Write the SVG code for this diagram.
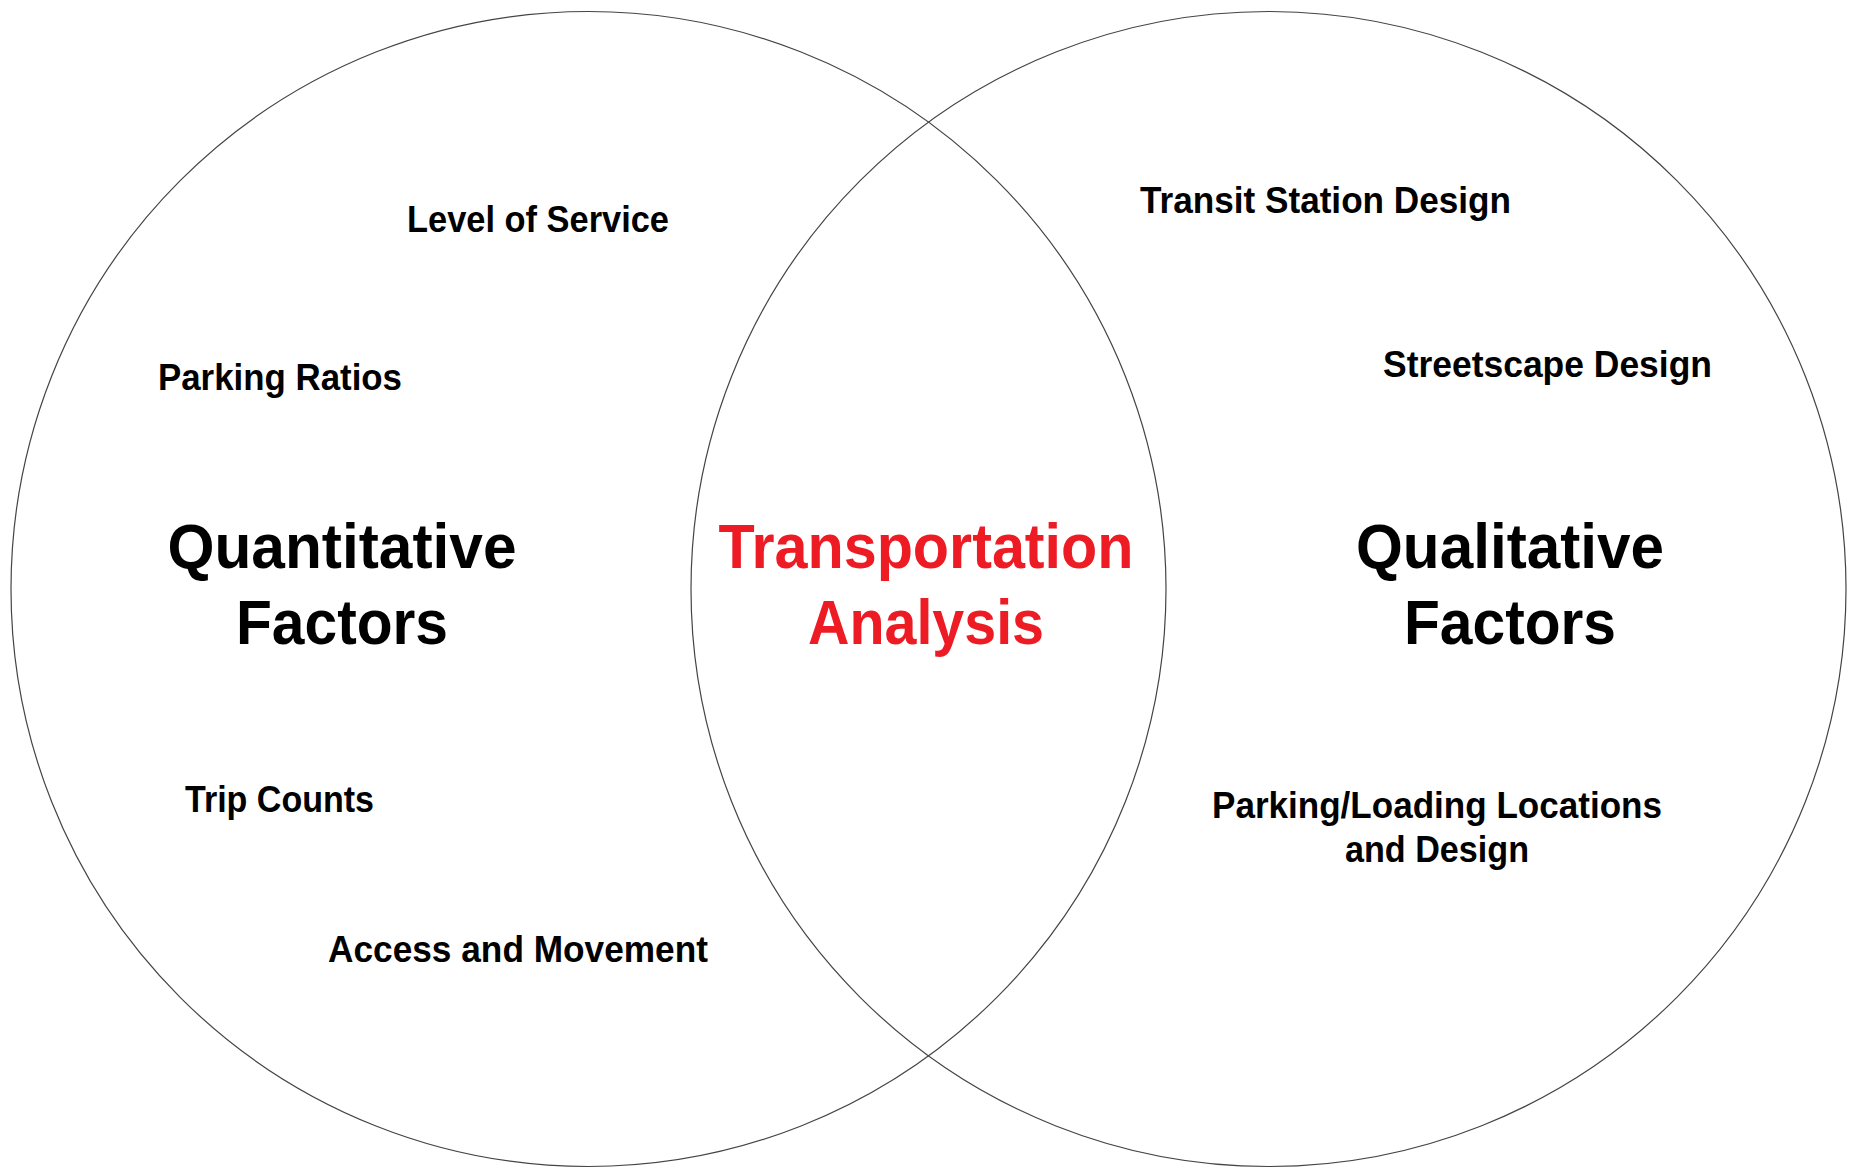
<svg xmlns="http://www.w3.org/2000/svg" width="1849" height="1168" viewBox="0 0 1849 1168">
<style>
.c{fill:none;stroke:#444;stroke-width:1.2}
.s{font-family:"Liberation Sans",Arial,sans-serif;font-weight:bold;font-size:36px;fill:#000;text-anchor:middle}
.b{font-family:"Liberation Sans",Arial,sans-serif;font-weight:bold;font-size:63px;fill:#000;text-anchor:middle}
.r{fill:#ED1C24}
</style>
<rect width="1849" height="1168" fill="#fff"/>
<g id="left-circle">
<circle class="c" cx="588.5" cy="589" r="577.5"/>
<text class="b" x="342" y="568" textLength="349" lengthAdjust="spacingAndGlyphs">Quantitative</text>
<text class="b" x="342" y="644" textLength="212" lengthAdjust="spacingAndGlyphs">Factors</text>
</g>
<g id="right-circle">
<circle class="c" cx="1268.5" cy="589" r="577.5"/>
<text class="b" x="1510" y="568" textLength="308" lengthAdjust="spacingAndGlyphs">Qualitative</text>
<text class="b" x="1510" y="644" textLength="212" lengthAdjust="spacingAndGlyphs">Factors</text>
</g>
<g id="center">
<text class="b r" x="926" y="568" textLength="415" lengthAdjust="spacingAndGlyphs">Transportation</text>
<text class="b r" x="926" y="644" textLength="236" lengthAdjust="spacingAndGlyphs">Analysis</text>
</g>
<g id="level-of-service"><text class="s" x="538" y="232" textLength="262" lengthAdjust="spacingAndGlyphs">Level of Service</text></g>
<g id="parking-ratios"><text class="s" x="280" y="390" textLength="244" lengthAdjust="spacingAndGlyphs">Parking Ratios</text></g>
<g id="trip-counts"><text class="s" x="279.5" y="812" textLength="189" lengthAdjust="spacingAndGlyphs">Trip Counts</text></g>
<g id="access-movement"><text class="s" x="518" y="962" textLength="380" lengthAdjust="spacingAndGlyphs">Access and Movement</text></g>
<g id="transit-station"><text class="s" x="1325.5" y="213" textLength="371" lengthAdjust="spacingAndGlyphs">Transit Station Design</text></g>
<g id="streetscape"><text class="s" x="1547.5" y="377" textLength="329" lengthAdjust="spacingAndGlyphs">Streetscape Design</text></g>
<g id="parking-loading">
<text class="s" x="1437" y="818" textLength="450" lengthAdjust="spacingAndGlyphs">Parking/Loading Locations</text>
<text class="s" x="1437" y="862" textLength="184" lengthAdjust="spacingAndGlyphs">and Design</text>
</g>
<g id="connectors"></g>
</svg>
